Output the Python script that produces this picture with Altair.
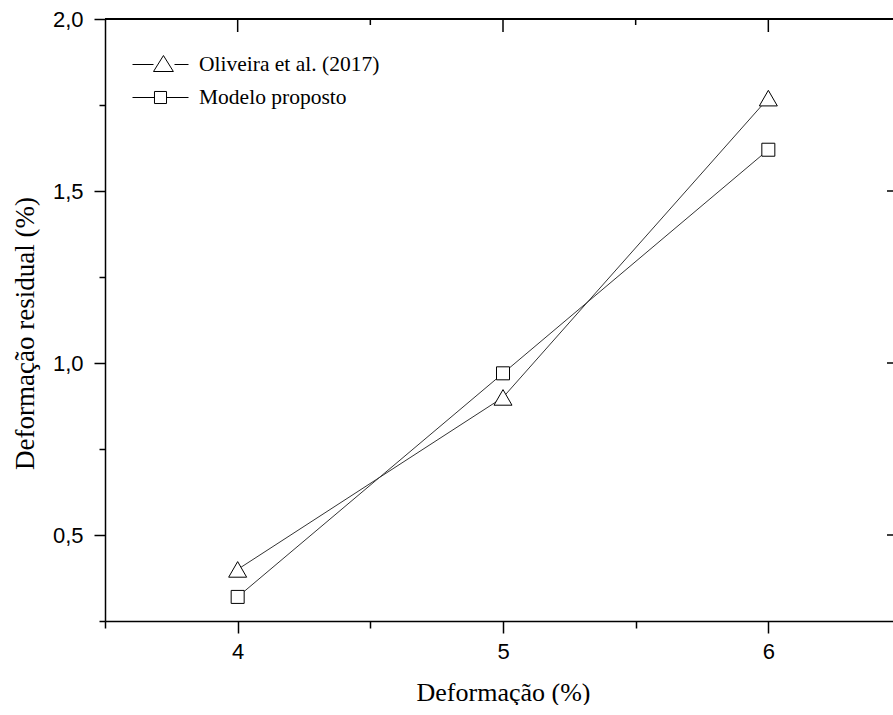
import altair as alt
import pandas as pd

# ---- data ----
x_vals = [4, 5, 6]
oliveira = [0.40, 0.90, 1.77]
modelo = [0.32, 0.97, 1.62]
series_names = ["Oliveira et al. (2017)", "Modelo proposto"]

x_domain = [3.5, 6.5]
y_domain = [0.25, 2.0]
x_ticks = [3.5, 4, 4.5, 5, 5.5, 6, 6.5]
y_ticks = [0.25, 0.5, 0.75, 1.0, 1.25, 1.5, 1.75, 2.0]

df = pd.DataFrame({
    "x": x_vals * 2,
    "y": oliveira + modelo,
    "series": [series_names[0]] * len(x_vals) + [series_names[1]] * len(x_vals),
})
top_major = pd.DataFrame({"t": [v for v in x_ticks[1:-1] if v % 1 == 0]})
top_minor = pd.DataFrame({"t": [v for v in x_ticks[1:-1] if v % 1 != 0]})
right_major = pd.DataFrame({"t": [v for v in y_ticks[1:-1] if (v * 2) % 1 == 0]})

W, H, XR = 788, 602, 796
SERIF = "Liberation Serif"
SANS = "Liberation Sans"

xs = alt.Scale(domain=x_domain, range=[0, XR], nice=False, zero=False)
ys = alt.Scale(domain=y_domain, nice=False, zero=False)

x_axis = alt.Axis(
    values=x_ticks,
    labelExpr="datum.value % 1 == 0 ? format(datum.value, 'd') : ''",
    labelOverlap=False,
    labelFont=SANS, labelFontSize=22, labelColor="black", labelPadding=8,
    tickSize={"condition": {"test": "datum.value % 1 == 0", "value": 12}, "value": 7},
    tickColor="black", tickWidth=1.5,
    domainColor="black", domainWidth=1.5,
    grid=False,
    title="Deformação (%)", titleFont=SERIF, titleFontSize=26, titleFontWeight="normal",
    titleColor="black", titleX=398, titleY=71, titleBaseline="middle", titleAlign="center",
)
y_axis = alt.Axis(
    values=y_ticks,
    labelExpr="abs(datum.value*2 - round(datum.value*2)) < 0.000001 ? replace(format(datum.value, '.1f'), '.', ',') : ''",
    labelOverlap=False,
    labelFont=SANS, labelFontSize=22, labelColor="black", labelPadding=11,
    tickSize={"condition": {"test": "abs(datum.value*2 - round(datum.value*2)) < 0.000001", "value": 11}, "value": 6},
    tickColor="black", tickWidth=1.5,
    domainColor="black", domainWidth=1.5,
    grid=False,
    title="Deformação residual (%)", titleFont=SERIF, titleFontSize=27, titleFontWeight="normal",
    titleColor="black", titleX=-80, titleY=314, titleBaseline="middle", titleAlign="center",
)

base = alt.Chart(df)

lines = base.mark_line(color="#333333", strokeWidth=1).encode(
    x=alt.X("x:Q", scale=xs, axis=x_axis),
    y=alt.Y("y:Q", scale=ys, axis=y_axis),
    detail="series:N",
)

tri_pts = base.transform_filter(alt.datum.series == series_names[0]).mark_point(
    shape="triangle-up", size=324, filled=True, fill="white", stroke="black", strokeWidth=1, opacity=1
).encode(x="x:Q", y="y:Q")

sq_pts = base.transform_filter(alt.datum.series == series_names[1]).mark_point(
    shape="square", size=169, filled=True, fill="white", stroke="black", strokeWidth=1, opacity=1
).encode(x="x:Q", y="y:Q")

# legend symbols "—△—" and "—□—" as custom paths
tri_path = "M -2 0 L -0.5 0 M 1 0 L 2 0 M 0.21 -0.64 L 0.92 0.5 L -0.5 0.5 Z"
sq_path = "M -2 0 L -0.43 0 M 0.43 0 L 2 0 M -0.43 -0.43 L 0.43 -0.43 L 0.43 0.43 L -0.43 0.43 Z"

# layer with no rows drawn: it only carries the legend
legend_layer = base.transform_filter("false").mark_point(
    filled=False, stroke="black", strokeWidth=1
).encode(
    x="x:Q", y="y:Q",
    shape=alt.Shape(
        "series:N",
        scale=alt.Scale(domain=series_names, range=[tri_path, sq_path]),
        legend=alt.Legend(
            title=None, orient="none", legendX=41, legendY=31,
            symbolSize=784, symbolStrokeWidth=1, symbolFillColor="white",
            symbolStrokeColor="black", symbolOpacity=1,
            labelFont=SERIF, labelFontSize=21.5, labelColor="black",
            labelOffset=24, labelLimit=400, rowPadding=8, padding=0,
        ),
    ),
)

top_line = alt.Chart(df).mark_rule(color="black", strokeWidth=1.5).encode(
    x=alt.X(datum=x_domain[0], type="quantitative"),
    x2=alt.X2(datum=x_domain[1]),
    y=alt.Y(datum=y_domain[1], type="quantitative"),
)
top_major_ticks = alt.Chart(top_major).mark_rule(color="black", strokeWidth=1.5).encode(
    x="t:Q", y=alt.value(0), y2=alt.value(13)
)
top_minor_ticks = alt.Chart(top_minor).mark_rule(color="black", strokeWidth=1.5).encode(
    x="t:Q", y=alt.value(0), y2=alt.value(6)
)
right_ticks = alt.Chart(right_major).mark_rule(color="black", strokeWidth=1.5).encode(
    y="t:Q", x=alt.X(datum=x_domain[1], type="quantitative"), x2=alt.value(XR - 14)
)

chart = alt.layer(
    lines, tri_pts, sq_pts, legend_layer, top_line, top_major_ticks, top_minor_ticks, right_ticks
).properties(
    width=W, height=H,
    autosize=alt.AutoSizeParams(type="none"),
    padding={"left": 105, "top": 19, "right": 0, "bottom": 84},
    background="white",
).configure_view(stroke=None)

chart.save("out.html", embed_options={"renderer": "svg", "actions": False})
